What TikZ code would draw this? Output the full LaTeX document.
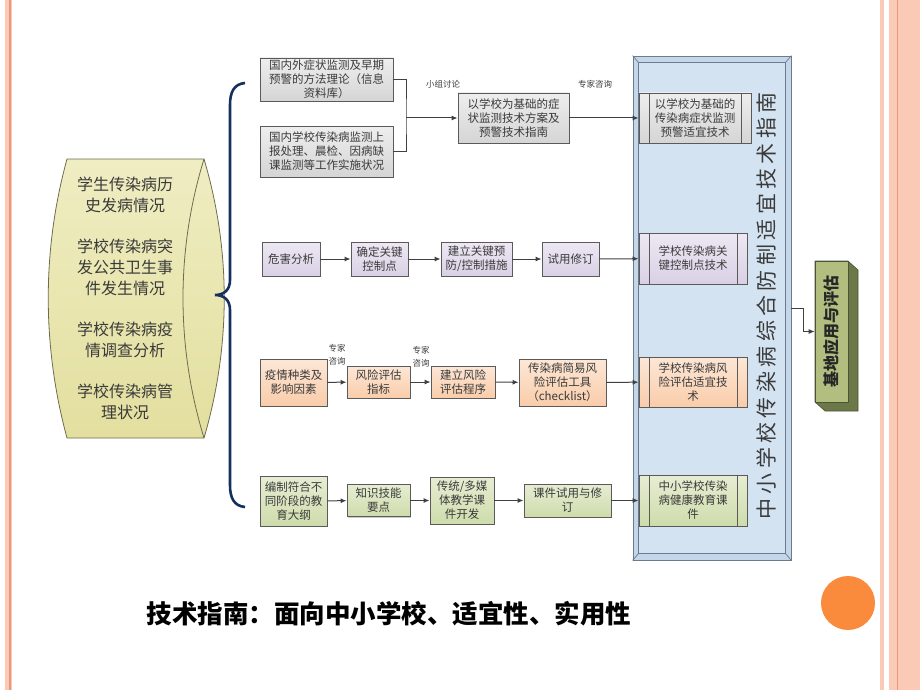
\documentclass[tikz,border=0pt]{standalone}
\usepackage{fontspec}
\newfontfamily\cjk{Noto Sans CJK SC}
\usetikzlibrary{arrows.meta,shadows}
\definecolor{boxline}{HTML}{5A5A5A}
\definecolor{boxtext}{HTML}{3A3A3A}
\definecolor{wire}{HTML}{404040}
\definecolor{grayA}{HTML}{EEEEEE}
\definecolor{grayB}{HTML}{D5D5D5}
\definecolor{lilacA}{HTML}{EDE8F3}
\definecolor{lilacB}{HTML}{D9D0E5}
\definecolor{peachA}{HTML}{FDE7D6}
\definecolor{peachB}{HTML}{F9CCAA}
\definecolor{leafA}{HTML}{E6EDD3}
\definecolor{leafB}{HTML}{CEDCAB}
\definecolor{techout}{HTML}{C4D6EA}
\definecolor{techin}{HTML}{D4E3F1}
\definecolor{techline}{HTML}{6B7B8C}
\definecolor{scrollA}{HTML}{EFEDC2}
\definecolor{scrollB}{HTML}{E3DF9F}
\definecolor{scrollline}{HTML}{6E6C4E}
\definecolor{bracenavy}{HTML}{13305E}
\definecolor{olivefront}{HTML}{B2BE80}
\definecolor{oliveside}{HTML}{6D7848}
\definecolor{stripe}{HTML}{FBCAB6}
\definecolor{stripedark}{HTML}{E9987A}
\definecolor{dotorange}{HTML}{FA8A3C}

\begin{document}
\begin{tikzpicture}[x=1pt,y=-1pt,
  box/.style={draw=boxline,line width=0.9pt,align=center,inner sep=1pt,text=boxtext,
    font=\cjk\fontsize{11.5}{14}\selectfont,
    drop shadow={shadow xshift=1.2pt,shadow yshift=-1.2pt,fill=black!40}},
  graybox/.style={box,top color=grayA,bottom color=grayB},
  lilacbox/.style={box,top color=lilacA,bottom color=lilacB},
  peachbox/.style={box,top color=peachA,bottom color=peachB},
  leafbox/.style={box,top color=leafA,bottom color=leafB},
  edge/.style={draw=boxline,line width=0.9pt},
  conn/.style={draw=wire,line width=1pt},
  arr/.style={conn,-{Latex[length=6pt,width=5pt]}},
  note/.style={font=\cjk\fontsize{8.5}{13}\selectfont,text=boxtext,align=center,inner sep=0pt},
]
\useasboundingbox (0,0) rectangle (920,690);

\fill[stripe] (5,0) rectangle (12,690);
\draw[stripedark,line width=2pt] (9.5,0) -- (9.5,690);
\fill[stripe] (880,0) rectangle (884,690);
\fill[stripe] (889,0) rectangle (920,690);
\draw[stripedark,line width=1pt] (897,0) -- (897,690);

\draw[scrollline,line width=0.8pt,top color=scrollA,bottom color=scrollB]
  (67,159) -- (204,159) .. controls (231,250) and (231,346) .. (204,438)
  -- (67,438) .. controls (42,346) and (42,250) .. (67,159) -- cycle;
\draw[scrollline,line width=0.8pt] (204,159) .. controls (176,250) and (176,346) .. (204,438);
\node[font=\cjk\fontsize{16}{21}\selectfont,text=boxtext,align=center] (history) at (125,298)
  {学生传染病历\\史发病情况\\[20pt]学校传染病突\\发公共卫生事\\件发生情况\\[20pt]学校传染病疫\\情调查分析\\[20pt]学校传染病管\\理状况};

\draw[bracenavy,line width=2.6pt] (245,83) .. controls (234,84) and (230,92) .. (230,105)
  -- (230,280) .. controls (230,290) and (224,295) .. (215,295)
  .. controls (224,295) and (230,300) .. (230,310)
  -- (230,485) .. controls (230,498) and (234,506) .. (245,507);

\node[draw=techline,line width=0.9pt,fill=techout,minimum width=158,minimum height=504] (tech) at (712,308) {};
\coordinate (tin1) at ([shift={(6pt,-7pt)}]tech.north west);
\coordinate (tin2) at ([shift={(-6pt,-7pt)}]tech.north east);
\coordinate (tin3) at ([shift={(-6pt,7pt)}]tech.south east);
\coordinate (tin4) at ([shift={(6pt,7pt)}]tech.south west);
\draw[techline,line width=0.7pt,fill=techin] (tin1) rectangle (tin3);
\foreach \c/\d in {north west/tin1,north east/tin2,south east/tin3,south west/tin4}
  \draw[techline,line width=0.7pt] (tech.\c) -- (\d);
\node[rotate=90,text=boxtext,font=\cjk\addfontfeature{LetterSpace=21}\fontsize{21}{21}\selectfont] (guide) at (766,306)
  {中小学校传染病综合防制适宜技术指南};

\node[graybox,minimum width=133,minimum height=43] (a1) at (326.5,79.5) {国内外症状监测及早期\\预警的方法理论（信息\\资料库）};
\node[graybox,minimum width=133,minimum height=51] (a2) at (326.5,151.5) {国内学校传染病监测上\\报处理、晨检、因病缺\\课监测等工作实施状况};
\node[graybox,minimum width=111,minimum height=50] (b1) at (513.5,118) {以学校为基础的症\\状监测技术方案及\\预警技术指南};
\node[graybox,minimum width=112,minimum height=50] (f1) at (695,118) {以学校为基础的\\传染病症状监测\\预警适宜技术};

\node[lilacbox,minimum width=58,minimum height=34] (c1) at (291,259) {危害分析};
\node[lilacbox,minimum width=57,minimum height=34] (c2) at (379.5,259) {确定关键\\控制点};
\node[lilacbox,minimum width=71,minimum height=34] (c3) at (476.5,259) {建立关键预\\防/控制措施};
\node[lilacbox,minimum width=57,minimum height=34] (c4) at (570.5,259) {试用修订};
\node[lilacbox,minimum width=108,minimum height=51] (f2) at (693,258.5) {学校传染病关\\键控制点技术};

\node[peachbox,minimum width=67,minimum height=47] (d1) at (293.5,382.5) {疫情种类及\\影响因素};
\node[peachbox,minimum width=63,minimum height=32] (d2) at (378.5,382) {风险评估\\指标};
\node[peachbox,minimum width=64,minimum height=32] (d3) at (463,382) {建立风险\\评估程序};
\node[peachbox,minimum width=87,minimum height=47] (d4) at (562.5,382.5) {传染病简易风\\险评估工具\\（checklist）};
\node[peachbox,minimum width=108,minimum height=50] (f3) at (693,382) {学校传染病风\\险评估适宜技\\术};

\node[leafbox,minimum width=67,minimum height=50] (e1) at (293.5,501) {编制符合不\\同阶段的教\\育大纲};
\node[leafbox,minimum width=63,minimum height=32] (e2) at (378.5,500.5) {知识技能\\要点};
\node[leafbox,minimum width=64,minimum height=47] (e3) at (462,500.5) {传统/多媒\\体教学课\\件开发};
\node[leafbox,minimum width=87,minimum height=33] (e4) at (567.5,500.5) {课件试用与修\\订};
\node[leafbox,minimum width=108,minimum height=51] (f4) at (693,500.5) {中小学校传染\\病健康教育课\\件};

\foreach \f in {f1,f2,f3,f4}{
  \draw[edge] ([xshift=11pt]\f.north west) -- ([xshift=11pt]\f.south west);
  \draw[edge] ([xshift=-10pt]\f.north east) -- ([xshift=-10pt]\f.south east);
}

\coordinate (j1) at (406,118);
\draw[conn] (a1.east) -| (j1) |- (a2.east);
\draw[arr] (j1) -- (b1.west);
\draw[arr] (b1) -- (f1);
\node[note] (n1) at (443,84) {小组讨论};
\node[note] (n2) at (595,84) {专家咨询};

\draw[arr] (c1) -- (c2);
\draw[arr] (c2) -- (c3);
\draw[arr] (c3) -- (c4);
\draw[arr] (c4) -- (f2);

\draw[arr] (d1) -- (d2);
\draw[arr] (d2) -- (d3);
\draw[arr] (d3) -- (d4);
\draw[arr] (d4) -- (f3);
\node[note] (n3) at (337,355) {专家\\咨询};
\node[note] (n4) at (421,357) {专家\\咨询};

\draw[arr] (e1) -- (e2);
\draw[arr] (e2) -- (e3);
\draw[arr] (e3) -- (e4);
\draw[arr] (e4) -- (f4);

\fill[oliveside] (815,261) -- (848,261) -- (858,270) -- (858,411) -- (825,411) -- (815,402) -- cycle;
\draw[oliveside!70!black,line width=0.6pt] (815,261) -- (848,261) -- (858,270) -- (858,411) -- (825,411) -- (815,402) -- cycle;
\node[fill=olivefront,draw=oliveside!70!black,line width=0.6pt,minimum width=141,minimum height=33,
  rotate=90,font=\cjk\bfseries\fontsize{16}{16}\selectfont,text=black!85,inner sep=0pt] (base) at (831.5,331.5) {基地应用与评估};
\coordinate (k) at (803,308);
\draw[arr] (tech.east) -- (k) |- (base.north);

\fill[dotorange] (848,603) circle[radius=27];
\node[anchor=west,font=\cjk\bfseries\fontsize{25.5}{26}\selectfont] (motto) at (143,614) {技术指南：面向中小学校、适宜性、实用性};

\end{tikzpicture}
\end{document}
